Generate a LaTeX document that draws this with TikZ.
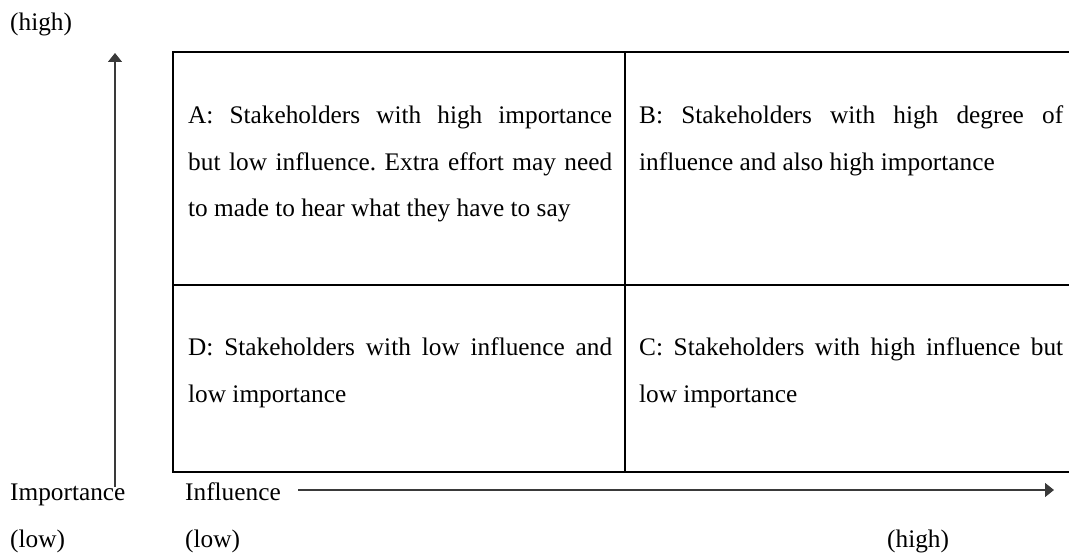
\documentclass[tikz,border=0pt]{standalone}
\usepackage{fontspec}
\setmainfont{Liberation Serif}
\usetikzlibrary{arrows.meta}
\definecolor{axisgray}{HTML}{3A3A3A}
\tikzset{
  lbl/.style={anchor=base west, inner sep=0pt, font=\fontsize{25.3}{30}\selectfont},
  celltext/.style={anchor=base west, inner sep=0pt, text width=424pt, align=justify,
    font=\fontsize{25.3}{46.5}\selectfont},
  gridline/.style={draw=black, line width=1.6pt},
  axis/.style={draw=axisgray, line width=1.5pt, -{Triangle[length=9pt,width=14pt]}}
}
\begin{document}
\begin{tikzpicture}[x=1pt,y=-1pt]
\useasboundingbox (0,0) rectangle (1069,553);
% grid
\draw[gridline] (1069,52) -- (173,52) -- (173,472) -- (1069,472);
\draw[gridline] (625,52) -- (625,472);
\draw[gridline] (173,285) -- (1069,285);
% cell texts
\node[celltext] (A) at (188,124) {\frenchspacing A: Stakeholders with high importance\linebreak but low influence. Extra effort may need\linebreak to made to hear what they have to say};
\node[celltext] (B) at (639,124) {\frenchspacing B: Stakeholders with high degree of\linebreak influence and also high importance};
\node[celltext] (D) at (188,356) {\frenchspacing D: Stakeholders with low influence and\linebreak low importance};
\node[celltext] (C) at (639,356) {\frenchspacing C: Stakeholders with high influence but\linebreak low importance};
% labels
\node[lbl] (hightop) at (10,31) {(high)};
\node[lbl] (imp) at (10,500) {Importance};
\node[lbl] (lowimp) at (10,547) {(low)};
\node[lbl] (infl) at (185,500) {Influence};
\node[lbl] (lowinfl) at (185,547) {(low)};
\node[lbl] (highinfl) at (887,547) {(high)};
% axes
\coordinate (ybot) at (115,487);
\coordinate (ytop) at (115,53);
\coordinate (xstart) at (298,490);
\coordinate (xend) at (1054,490);
\draw[axis] (ybot) -- (ytop);
\draw[axis] (xstart) -- (xend);
\end{tikzpicture}
\end{document}
